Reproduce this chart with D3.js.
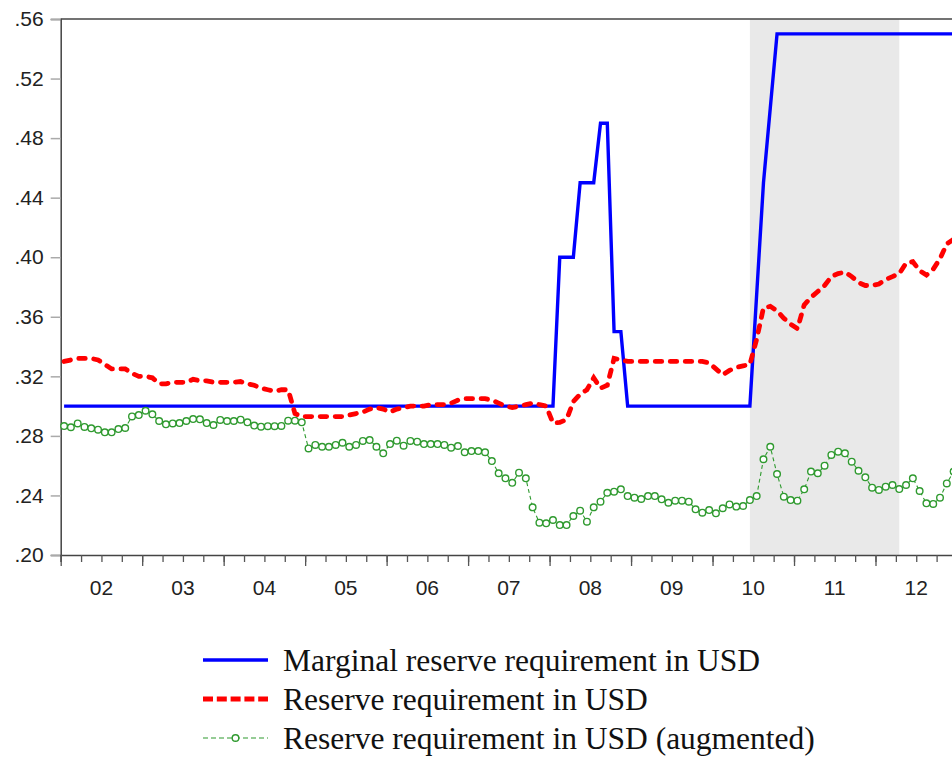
<!DOCTYPE html>
<html><head><meta charset="utf-8">
<script src="https://cdn.jsdelivr.net/npm/d3@7/dist/d3.min.js"></script>
<style>body{margin:0;background:#fff} svg{display:block}</style>
</head><body>
<svg id="c" width="952" height="759"></svg>
<script>
// Monthly observations, 2002M01 .. 2012M12
const startYear = 2002;
const yearLabels = ["02","03","04","05","06","07","08","09","10","11","12"];
const yTicks = [0.20,0.24,0.28,0.32,0.36,0.40,0.44,0.48,0.52,0.56];
const seriesNames = ["Marginal reserve requirement in USD","Reserve requirement in USD","Reserve requirement in USD (augmented)"];
const shadePeriod = ["2010M06","2012M04"];

const marginal = [
0.30,0.30,0.30,0.30,0.30,0.30,0.30,0.30,0.30,0.30,0.30,0.30,
0.30,0.30,0.30,0.30,0.30,0.30,0.30,0.30,0.30,0.30,0.30,0.30,
0.30,0.30,0.30,0.30,0.30,0.30,0.30,0.30,0.30,0.30,0.30,0.30,
0.30,0.30,0.30,0.30,0.30,0.30,0.30,0.30,0.30,0.30,0.30,0.30,
0.30,0.30,0.30,0.30,0.30,0.30,0.30,0.30,0.30,0.30,0.30,0.30,
0.30,0.30,0.30,0.30,0.30,0.30,0.30,0.30,0.30,0.30,0.30,0.30,
0.30,0.40,0.40,0.40,0.45,0.45,0.45,0.49,0.49,0.35,0.35,0.30,
0.30,0.30,0.30,0.30,0.30,0.30,0.30,0.30,0.30,0.30,0.30,0.30,
0.30,0.30,0.30,0.30,0.30,0.30,0.375,0.45,0.50,0.55,0.55,0.55,
0.55,0.55,0.55,0.55,0.55,0.55,0.55,0.55,0.55,0.55,0.55,0.55,
0.55,0.55,0.55,0.55,0.55,0.55,0.55,0.55,0.55,0.55,0.55,0.55
];

const reserve = [
0.330,0.331,0.332,0.332,0.332,0.331,0.328,0.325,0.325,0.325,0.322,0.320,
0.320,0.319,0.315,0.315,0.316,0.316,0.316,0.318,0.317,0.317,0.316,0.316,
0.316,0.316,0.3165,0.315,0.314,0.312,0.311,0.310,0.311,0.311,0.295,0.293,
0.293,0.293,0.293,0.293,0.293,0.293,0.294,0.295,0.296,0.298,0.299,0.298,
0.296,0.298,0.299,0.300,0.300,0.300,0.301,0.301,0.301,0.302,0.304,0.305,
0.305,0.305,0.305,0.304,0.302,0.300,0.299,0.300,0.301,0.302,0.301,0.300,
0.2886,0.289,0.291,0.303,0.308,0.311,0.319,0.312,0.314,0.332,0.331,0.330,
0.330,0.330,0.330,0.330,0.330,0.330,0.330,0.330,0.330,0.330,0.330,0.329,
0.325,0.321,0.324,0.326,0.327,0.328,0.345,0.366,0.367,0.364,0.359,0.355,
0.352,0.368,0.373,0.377,0.381,0.387,0.389,0.390,0.387,0.383,0.381,0.381,
0.382,0.385,0.387,0.389,0.396,0.397,0.391,0.388,0.392,0.399,0.409,0.412
];

const augmented = [
0.2866,0.2858,0.2884,0.2860,0.2851,0.2842,0.2824,0.2824,0.2846,0.2853,0.2931,0.2940,
0.2969,0.2945,0.2900,0.2878,0.2884,0.2886,0.2900,0.2913,0.2911,0.2886,0.2873,0.2907,
0.2900,0.2900,0.2909,0.2891,0.2869,0.2862,0.2865,0.2865,0.2867,0.2902,0.2902,0.2891,
0.2716,0.2739,0.2727,0.2727,0.2739,0.2754,0.2727,0.2739,0.2766,0.2772,0.2727,0.2683,
0.2745,0.2768,0.2734,0.2766,0.2761,0.2745,0.2745,0.2745,0.2739,0.2721,0.2732,0.2690,
0.2698,0.2698,0.2690,0.2631,0.2549,0.2515,0.2485,0.2553,0.2515,0.2320,0.2217,0.2213,
0.2235,0.2201,0.2201,0.2262,0.2298,0.2224,0.2320,0.2358,0.2418,0.2425,0.2441,0.2396,
0.2385,0.2376,0.2396,0.2396,0.2374,0.2351,0.2365,0.2365,0.2358,0.2307,0.2284,0.2302,
0.2280,0.2314,0.2340,0.2325,0.2329,0.2369,0.2396,0.2643,0.2727,0.2544,0.2392,0.2369,
0.2365,0.2441,0.2560,0.2549,0.2600,0.2672,0.2694,0.2683,0.2627,0.2566,0.2522,0.2452,
0.2437,0.2459,0.2470,0.2443,0.2470,0.2515,0.2430,0.2347,0.2343,0.2385,0.2481,0.2560
];

const svg = d3.select("#c");
const L = 60.7, T = 19, B = 555, monthW = 6.79;
const n = marginal.length;
const x = d3.scaleLinear().domain([-0.5, n - 0.5]).range([L, L + n * monthW]);
const y = d3.scaleLinear().domain([0.20, 0.56]).range([B, T]);
const idx = s => { const [yy, mm] = s.split("M").map(Number); return (yy - startYear) * 12 + (mm - 1); };

// shading
svg.append("rect")
  .attr("x", x(idx(shadePeriod[0]))).attr("y", T)
  .attr("width", x(idx(shadePeriod[1])) - x(idx(shadePeriod[0])))
  .attr("height", B - T).attr("fill", "#e9e9e9");

// top border
svg.append("line").attr("x1", L).attr("x2", 960).attr("y1", T).attr("y2", T)
  .attr("stroke", "#444").attr("stroke-width", 1.5);

// y axis
const yAxis = svg.append("g").attr("transform", `translate(${L},0)`)
  .call(d3.axisLeft(y).tickValues(yTicks).tickSize(10).tickPadding(7)
    .tickFormat(d => d3.format(".2f")(d).replace(/^0/, "")));
yAxis.select(".domain").attr("stroke", "#444").attr("stroke-width", 1.5);
yAxis.selectAll(".tick line").attr("stroke", "#aaa").attr("stroke-width", 1.5);
yAxis.selectAll("text").attr("font-family", "Liberation Sans, Arial, sans-serif")
  .attr("font-size", 21).attr("fill", "#222");

// x axis
const quarterTicks = d3.range(0, n / 3 + 1).map(k => k * 3 - 0.5);
const yearTicks = d3.range(0, n / 12 + 1).map(k => k * 12 - 0.5);
const xMinor = svg.append("g").attr("transform", `translate(0,${B})`)
  .call(d3.axisBottom(x).tickValues(quarterTicks).tickSize(7).tickFormat(""));
xMinor.select(".domain").attr("stroke", "#444").attr("stroke-width", 1.5);
xMinor.selectAll(".tick line").attr("stroke", "#555").attr("stroke-width", 1.3);
const xMajor = svg.append("g").attr("transform", `translate(0,${B})`)
  .call(d3.axisBottom(x).tickValues(yearTicks).tickSize(11).tickFormat(""));
xMajor.select(".domain").remove();
xMajor.selectAll(".tick line").attr("stroke", "#555").attr("stroke-width", 1.3);
svg.append("g").selectAll("text").data(yearLabels).join("text")
  .attr("x", (d, i) => x(i * 12 + 5.5)).attr("y", 595)
  .attr("text-anchor", "middle")
  .attr("font-family", "Liberation Sans, Arial, sans-serif")
  .attr("font-size", 21).attr("fill", "#222").text(d => d);

// series
const line = d3.line().x((d, i) => x(i)).y(d => y(d));
svg.append("path").datum(marginal).attr("d", line)
  .attr("fill", "none").attr("stroke", "#0000ff").attr("stroke-width", 3.4)
  .attr("stroke-linejoin", "miter");
svg.append("path").datum(reserve).attr("d", line)
  .attr("fill", "none").attr("stroke", "#ff0000").attr("stroke-width", 4.8)
  .attr("stroke-dasharray", "6.5,8.5").attr("stroke-linecap", "round");
const green = "#2f9a2f";
svg.append("path").datum(augmented).attr("d", line)
  .attr("fill", "none").attr("stroke", green).attr("stroke-width", 1.1)
  .attr("stroke-dasharray", "4,3");
svg.append("g").selectAll("circle").data(augmented).join("circle")
  .attr("cx", (d, i) => x(i)).attr("cy", d => y(d)).attr("r", 3.3)
  .attr("fill", "#fff").attr("stroke", green).attr("stroke-width", 1.4);

// legend
const lg = svg.append("g");
const lx1 = 203, lx2 = 268;
const rows = [660, 699, 738];
lg.append("line").attr("x1", lx1).attr("x2", lx2).attr("y1", rows[0]).attr("y2", rows[0])
  .attr("stroke", "#0000ff").attr("stroke-width", 3.4);
lg.append("line").attr("x1", lx1).attr("x2", lx2).attr("y1", rows[1]).attr("y2", rows[1])
  .attr("stroke", "#ff0000").attr("stroke-width", 4.8).attr("stroke-dasharray", "10,3.8");
lg.append("line").attr("x1", lx1).attr("x2", lx2).attr("y1", rows[2]).attr("y2", rows[2])
  .attr("stroke", green).attr("stroke-width", 1.2).attr("stroke-dasharray", "5,3");
lg.append("circle").attr("cx", (lx1 + lx2) / 2).attr("cy", rows[2]).attr("r", 3.3)
  .attr("fill", "#fff").attr("stroke", green).attr("stroke-width", 1.4);
lg.selectAll("text").data(seriesNames).join("text")
  .attr("x", 283).attr("y", (d, i) => rows[i] + 10.5)
  .attr("font-family", "Liberation Serif, Times New Roman, serif")
  .attr("font-size", 31.5).attr("fill", "#111").text(d => d);
</script>
</body></html>
